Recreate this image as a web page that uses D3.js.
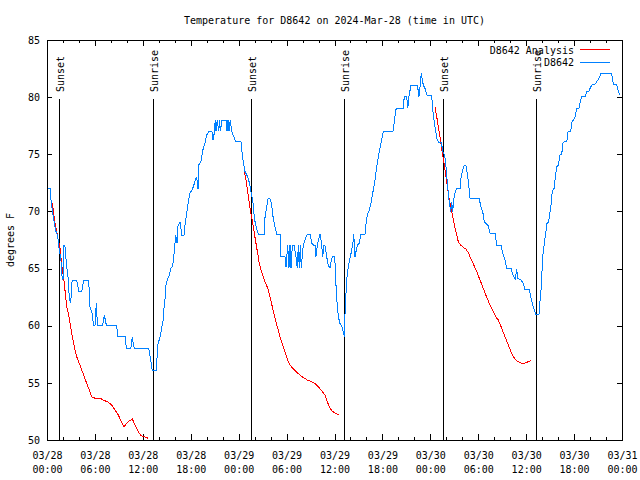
<!DOCTYPE html>
<html><head><meta charset="utf-8">
<script src="https://cdn.jsdelivr.net/npm/d3@7"></script>
<style>
body{margin:0;background:#fff}
text{font-family:"DejaVu Sans Mono","Liberation Mono",monospace;font-size:10px;fill:#000}
</style>
</head><body>
<svg id="chart" width="640" height="480"></svg>
<script>
// ---------- data ----------
const chartTitle = "Temperature for D8642 on 2024-Mar-28 (time in UTC)";
const yLabel = "degrees F";
const seriesNames = ["D8642 Analysis", "D8642"];
const seriesColors = ["#ff0000", "#0080ff"];

// hours since 2024-03-28 00:00 UTC
const xTickHours = [0, 6, 12, 18, 24, 30, 36, 42, 48, 54, 60, 66, 72];
const xTickDates = ["03/28","03/28","03/28","03/28","03/29","03/29","03/29","03/29","03/30","03/30","03/30","03/30","03/31"];
const xTickTimes = ["00:00","06:00","12:00","18:00","00:00","06:00","12:00","18:00","00:00","06:00","12:00","18:00","00:00"];
const xMinorHours = [2,4,8,10,14,16,20,22,26,28,32,34,38,40,44,46,50,52,56,58,62,64,68,70];
const yTicks = [50, 55, 60, 65, 70, 75, 80, 85];

const sunsetHours = [1.55, 25.58, 49.62];
const sunriseHours = [13.31, 37.23, 61.27];

// observed D8642
const obsHours = [0.08,0.46,0.5,0.65,0.8,0.95,1.1,1.3,1.45,1.54,1.72,1.88,2.0,2.13,2.25,2.47,2.67,2.79,2.97,3.09,3.17,3.72,4.01,4.35,4.47,4.63,5.22,5.38,5.6,5.72,5.8,6.01,6.17,6.26,6.35,6.97,7.18,7.3,7.43,8.73,8.85,9.77,9.85,9.98,10.48,10.6,10.68,10.8,10.93,12.73,13.02,13.19,13.74,13.81,14.15,14.36,14.56,14.65,14.78,14.9,15.06,15.28,15.49,15.74,15.94,16.12,16.28,16.4,16.65,16.9,17.15,17.28,17.49,17.66,17.91,18.24,18.66,18.75,18.91,19.03,19.28,19.53,19.78,20.0,20.29,20.66,20.79,20.91,21.07,21.16,21.32,21.5,21.58,21.7,21.91,22.41,22.54,22.66,22.79,22.95,23.13,23.63,24.29,24.42,24.58,24.79,25.0,25.21,25.42,25.63,25.8,25.88,26.05,26.26,26.46,27.21,27.3,27.51,27.67,27.92,28.14,28.26,28.51,28.76,29.18,29.26,29.8,29.93,30.14,30.3,30.43,30.55,30.72,30.93,31.18,31.34,31.47,31.59,31.72,31.84,32.02,32.18,32.43,32.6,32.93,33.18,33.35,33.56,33.68,33.85,34.06,34.18,34.35,34.52,34.69,34.85,35.02,35.22,35.44,35.6,35.73,36.03,36.15,36.31,36.48,36.69,36.94,37.1,37.23,37.28,37.44,37.53,37.73,37.94,38.07,38.23,38.36,38.41,38.57,38.69,38.86,39.11,39.28,39.82,39.95,40.11,40.36,40.57,40.78,40.98,41.16,41.29,41.49,41.7,41.91,42.11,43.36,43.49,43.66,43.86,44.62,44.74,45.04,45.17,45.33,45.58,46.42,46.49,46.58,46.71,46.87,46.96,47.12,47.33,47.54,48.17,48.25,48.37,48.55,48.71,48.87,49.09,49.42,49.5,49.75,49.88,50.0,50.13,50.25,50.38,50.55,50.68,50.8,50.96,51.13,51.3,51.72,51.84,52.05,52.22,52.47,52.63,52.81,52.97,54.13,54.31,54.56,54.76,54.97,55.26,55.47,56.1,56.31,56.85,57.06,57.35,57.56,58.1,58.26,58.48,58.64,58.82,58.94,59.35,59.64,59.86,60.39,60.61,60.82,61.02,61.19,61.61,61.73,61.86,61.98,62.11,62.27,62.45,62.61,62.82,62.99,63.11,63.2,63.4,63.53,63.65,63.83,64.03,64.24,64.45,64.58,64.78,65.08,65.24,65.58,65.74,65.99,66.15,66.33,66.62,66.74,66.95,67.37,67.58,67.83,68.0,68.21,68.62,68.83,69.12,69.37,70.71,70.91,71.34,71.54,71.75];
const obsTemps = [72.0,72.0,71.0,70.2,69.5,68.8,68.3,67.9,67.3,66.5,66.0,64.3,64.0,67.06,66.9,65.17,64.0,62.4,61.96,63.56,64.0,64.0,62.98,62.98,63.56,64.0,64.0,61.67,61.23,60.79,60.06,60.06,61.96,60.79,60.06,60.06,60.94,60.5,60.06,60.06,59.04,59.04,58.46,58.02,58.02,58.46,59.04,58.46,58.02,58.02,56.85,56.06,56.06,58.2,59.0,59.8,60.5,61.5,62.4,63.56,64.0,64.35,65.0,65.25,66.5,67.9,67.2,68.7,69.1,67.9,67.9,68.8,69.8,70.7,71.6,72.0,72.9,73.0,72.0,74.1,74.4,75.4,75.96,76.7,77.0,77.0,76.25,76.7,78.0,77.0,78.0,77.0,78.0,77.0,78.0,78.0,77.0,78.0,77.0,78.0,77.0,76.1,76.1,75.2,74.35,73.5,73.2,72.9,72.2,71.4,70.7,70.0,69.1,68.5,68.0,68.0,69.5,70.4,71.1,71.1,70.6,69.7,68.8,68.0,68.0,66.04,66.04,65.17,67.06,65.02,67.06,65.02,67.06,67.06,66.04,65.02,67.06,65.02,67.06,65.02,66.63,67.2,67.79,68.02,68.02,67.2,67.06,67.06,66.04,67.06,67.64,68.02,67.35,66.04,67.06,66.92,66.04,65.31,65.02,65.75,66.04,66.04,64.0,62.1,60.79,60.2,59.92,59.48,59.04,60.5,62.83,64.0,65.17,65.9,66.33,66.92,67.5,68.02,66.04,66.48,67.06,67.2,68.02,68.02,68.96,69.69,70.1,70.71,71.58,72.31,73.19,73.92,74.79,75.52,76.25,76.98,77.04,77.85,78.88,79.02,79.02,80.1,80.1,79.02,80.1,81.06,81.06,80.33,80.04,80.92,82.08,81.65,81.06,80.77,80.19,80.1,79.31,78.44,77.56,76.83,76.25,76.02,76.02,75.38,74.94,74.5,73.63,72.46,71.58,70.71,69.98,70.85,69.98,71.15,71.73,72.02,72.02,72.9,73.63,73.98,73.98,73.33,72.31,71.15,71.15,70.42,69.98,69.1,68.96,68.75,68.09,68.09,67.06,67.06,66.39,65.75,65.02,65.02,64.58,64.29,64.09,64.94,64.15,64.0,63.71,63.13,63.13,62.4,61.81,61.38,61.0,61.0,62.1,63.13,64.73,66.33,67.2,68.09,68.96,69.1,69.98,70.56,71.44,72.02,72.02,73.04,73.92,74.06,74.94,74.94,75.96,76.1,76.1,76.98,76.98,77.85,78.06,78.29,79.02,79.02,79.46,80.04,80.04,80.48,80.48,80.77,81.06,81.12,81.35,81.65,82.08,82.08,81.12,81.06,80.48,80.19];

// analysis D8642 (three overnight runs)
const anaHours1 = [0.59,0.79,1.0,1.21,1.41,1.63,1.75,1.88,2.04,2.17,2.29,2.47,2.67,2.88,3.09,3.29,3.51,3.72,4.04,4.35,4.67,4.97,5.3,5.6,6.01,6.64,7.05,7.68,8.1,8.51,8.93,9.35,9.64,10.18,10.68,11.02,11.43,11.77,12.06,12.4,12.68];
const anaTemps1 = [70.85,70.13,68.96,68.23,67.5,66.77,65.9,65.17,64.29,63.71,62.83,61.67,61.08,60.21,59.33,58.6,57.88,57.29,56.71,56.13,55.54,54.96,54.38,53.79,53.65,53.65,53.5,53.3,53.06,52.62,52.19,51.52,51.17,51.6,51.84,51.31,50.73,50.38,50.29,50.23,50.15];
const anaHours2 = [24.71,24.92,25.13,25.33,25.54,25.76,25.96,26.17,26.38,26.58,26.8,27.01,27.3,27.64,27.92,28.26,28.55,28.89,29.18,29.51,29.8,30.14,30.43,30.77,31.18,31.68,32.09,32.6,33.15,33.56,33.97,34.4,34.81,35.1,35.35,35.65,35.98,36.35,36.6];
const anaTemps2 = [73.45,72.75,71.73,70.71,69.83,68.96,68.09,67.2,66.33,65.46,64.88,64.44,63.85,63.27,62.54,61.52,60.65,59.77,59.04,58.31,57.73,57.0,56.56,56.27,55.98,55.69,55.46,55.25,55.1,54.96,54.67,54.31,53.94,53.35,52.92,52.56,52.39,52.27,52.16];
const anaHours3 = [48.59,48.8,49.0,49.21,49.42,49.62,49.84,50.05,50.25,50.46,50.68,50.88,51.09,51.3,51.5,51.8,52.13,52.47,52.76,53.06,53.38,53.81,54.22,54.63,55.06,55.47,55.89,56.31,56.51,56.94,57.35,57.76,58.19,58.6,59.02,59.44,59.64,60.07,60.57];
const anaTemps3 = [79.11,78.29,77.42,76.54,75.52,74.65,73.63,72.6,71.58,70.71,69.98,69.25,68.52,67.94,67.35,67.06,66.86,66.69,66.39,65.9,65.4,64.73,64.0,63.27,62.49,61.81,61.23,60.65,60.5,59.77,59.04,58.31,57.58,57.06,56.85,56.71,56.65,56.8,56.94];

// ---------- chart ----------
const svg = d3.select("#chart");
const L = 47, R = 622, T = 40, B = 440;
const x = d3.scaleLinear().domain([0, 72]).range([L, R]);
const y = d3.scaleLinear().domain([50, 85]).range([B, T]);

svg.append("rect").attr("width", 640).attr("height", 480).attr("fill", "#fff");

svg.append("defs").append("clipPath").attr("id", "clip")
  .append("rect").attr("x", L).attr("y", T).attr("width", R - L).attr("height", B - T);

// title
svg.append("text").attr("x", (L + R) / 2).attr("y", 24)
  .attr("text-anchor", "middle").text(chartTitle);

// y label
svg.append("text").attr("transform", "translate(14,240) rotate(-90)")
  .attr("text-anchor", "middle").text(yLabel);

function styleAxis(g) {
  g.select(".domain").remove();
  g.selectAll(".tick line").attr("stroke", "#000").attr("shape-rendering", "crispEdges");
}

// bottom axis (major with labels)
const gB = svg.append("g").attr("transform", `translate(0,${B})`)
  .call(d3.axisBottom(x).tickValues(xTickHours).tickSize(-6).tickPadding(0).tickFormat(() => ""))
  .call(styleAxis);
gB.selectAll(".tick text").remove();
gB.selectAll(".tick").each(function(d, i) {
  const t = d3.select(this).append("text").attr("text-anchor", "middle")
    .style("font-family", "'DejaVu Sans Mono',monospace").style("font-size", "10px").attr("fill", "#000");
  t.append("tspan").attr("x", 0).attr("y", 19).text(xTickDates[i]);
  t.append("tspan").attr("x", 0).attr("y", 33).text(xTickTimes[i]);
});
svg.append("g").attr("transform", `translate(0,${B})`)
  .call(d3.axisBottom(x).tickValues(xMinorHours).tickSize(-3).tickFormat(() => ""))
  .call(styleAxis);

// top axis (mirror)
svg.append("g").attr("transform", `translate(0,${T})`)
  .call(d3.axisTop(x).tickValues(xTickHours).tickSize(-6).tickFormat(() => ""))
  .call(styleAxis);
svg.append("g").attr("transform", `translate(0,${T})`)
  .call(d3.axisTop(x).tickValues(xMinorHours).tickSize(-3).tickFormat(() => ""))
  .call(styleAxis);

// left axis
const gL = svg.append("g").attr("transform", `translate(${L},0)`)
  .call(d3.axisLeft(y).tickValues(yTicks).tickSize(-5).tickPadding(7).tickFormat(d3.format("d")))
  .call(styleAxis);
gL.selectAll(".tick text").style("font-family", "'DejaVu Sans Mono',monospace").style("font-size", "10px").attr("fill", "#000");

// right axis (mirror)
svg.append("g").attr("transform", `translate(${R},0)`)
  .call(d3.axisRight(y).tickValues(yTicks).tickSize(-5).tickFormat(() => ""))
  .call(styleAxis);

// frame
svg.append("rect").attr("x", L + 0.5).attr("y", T + 0.5).attr("width", R - L).attr("height", B - T)
  .attr("fill", "none").attr("stroke", "#000").attr("shape-rendering", "crispEdges");

// sunrise / sunset markers
const events = sunsetHours.map(h => ({h, label: "Sunset"}))
  .concat(sunriseHours.map(h => ({h, label: "Sunrise"})));
const ev = svg.append("g").selectAll("g").data(events).join("g");
ev.append("line")
  .attr("x1", d => Math.round(x(d.h)) + 0.5).attr("x2", d => Math.round(x(d.h)) + 0.5)
  .attr("y1", 99).attr("y2", B)
  .attr("stroke", "#000").attr("shape-rendering", "crispEdges");
ev.append("text")
  .attr("transform", d => `translate(${Math.round(x(d.h)) + 5},92) rotate(-90)`)
  .attr("text-anchor", "start").text(d => d.label);

// data lines
const line = d3.line().x(d => x(d[0])).y(d => y(d[1]));
const plot = svg.append("g").attr("clip-path", "url(#clip)");
const anaSegs = [[anaHours1, anaTemps1], [anaHours2, anaTemps2], [anaHours3, anaTemps3]];
anaSegs.forEach(([hs, ts]) => {
  plot.append("path").datum(hs.map((h, i) => [h, ts[i]]))
    .attr("d", line).attr("fill", "none").attr("stroke", seriesColors[0]).attr("stroke-width", 1)
    .attr("shape-rendering", "crispEdges");
});
plot.append("path").datum(obsHours.map((h, i) => [h, obsTemps[i]]))
  .attr("d", line).attr("fill", "none").attr("stroke", seriesColors[1]).attr("stroke-width", 1)
  .attr("shape-rendering", "crispEdges");

// legend
const legY = [50, 62.5];
seriesNames.forEach((name, i) => {
  svg.append("text").attr("x", 574).attr("y", legY[i]).attr("dy", "0.35em")
    .attr("text-anchor", "end").text(name);
  svg.append("line").attr("x1", 580).attr("x2", 610)
    .attr("y1", Math.round(legY[i]) - 0.5).attr("y2", Math.round(legY[i]) - 0.5)
    .attr("stroke", seriesColors[i]).attr("shape-rendering", "crispEdges");
});
</script>
</body></html>
